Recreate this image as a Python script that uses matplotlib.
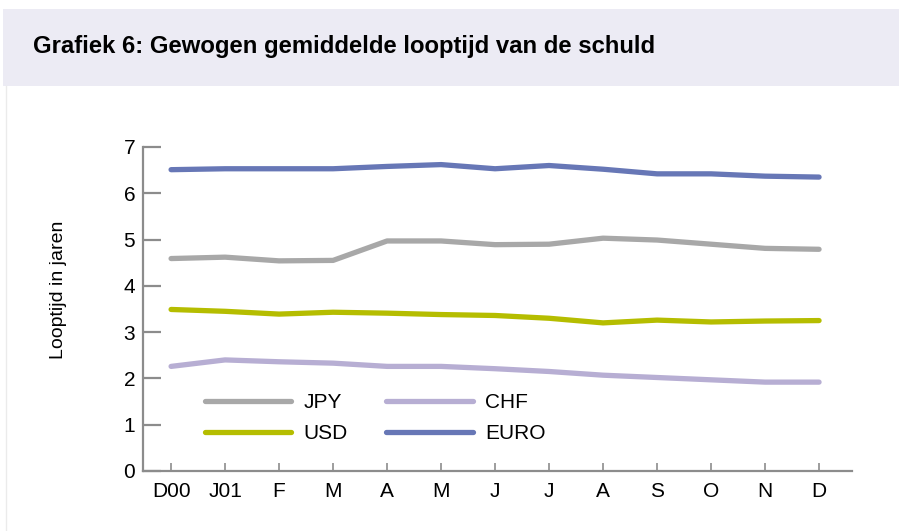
import matplotlib
matplotlib.use("Agg")
import matplotlib.pyplot as plt
from matplotlib.patches import Rectangle
from matplotlib.lines import Line2D

months = ["D00", "J01", "F", "M", "A", "M", "J", "J", "A", "S", "O", "N", "D"]
euro = [6.51, 6.53, 6.53, 6.53, 6.58, 6.62, 6.53, 6.60, 6.52, 6.42, 6.42, 6.37, 6.35]
jpy = [4.59, 4.62, 4.54, 4.55, 4.97, 4.97, 4.89, 4.90, 5.03, 4.99, 4.90, 4.81, 4.79]
usd = [3.49, 3.45, 3.39, 3.43, 3.41, 3.38, 3.36, 3.30, 3.20, 3.26, 3.22, 3.24, 3.25]
chf = [2.26, 2.40, 2.36, 2.33, 2.26, 2.26, 2.21, 2.15, 2.07, 2.02, 1.97, 1.92, 1.92]
yticks = [0, 1, 2, 3, 4, 5, 6, 7]

c_euro = "#6777B6"
c_jpy = "#A8A8A8"
c_usd = "#B5BD00"
c_chf = "#B7AED3"

plt.rcParams['font.family'] = ['Liberation Sans', 'DejaVu Sans']

W, H = 899, 531
fig = plt.figure(figsize=(W / 100, H / 100), dpi=100)
fig.patch.set_facecolor("white")

# header band
fig.add_artist(Rectangle((3 / W, 1 - 86 / H), 1 - 3 / W, 77 / H, transform=fig.transFigure,
                         facecolor="#ECEBF4", edgecolor="none", zorder=0))
fig.add_artist(Line2D([6 / W, 6 / W], [0, 1 - 86 / H], transform=fig.transFigure,
                      color="#EBEBEB", lw=1))
fig.text(33 / W, 1 - 47 / H, "Grafiek 6: Gewogen gemiddelde looptijd van de schuld",
         fontsize=17.2, fontweight="bold", va="center", ha="left")

ax = fig.add_axes([143 / W, (H - 471) / H, (852 - 143) / W, (471 - 147) / H])
x = list(range(len(months)))
lw = 3.8
ax.plot(x, jpy, color=c_jpy, lw=lw, solid_capstyle="round", label="JPY")
ax.plot(x, usd, color=c_usd, lw=lw, solid_capstyle="round", label="USD")
ax.plot(x, chf, color=c_chf, lw=lw, solid_capstyle="round", label="CHF")
ax.plot(x, euro, color=c_euro, lw=lw, solid_capstyle="round", label="EURO")

ax.set_xlim(-0.52, 12.61)
ax.set_ylim(0, 7)
ax.set_xticks(x)
ax.set_xticklabels(months)
ax.set_yticks(yticks)

for s in ["top", "right"]:
    ax.spines[s].set_visible(False)
for s in ["left", "bottom"]:
    ax.spines[s].set_color("#8C8C8C")
    ax.spines[s].set_linewidth(1.6)

ax.tick_params(axis="y", direction="in", length=13, width=1.6, color="#8C8C8C",
               labelsize=15, pad=-2)
ax.tick_params(axis="x", direction="in", length=5.5, width=1.2, color="#8C8C8C",
               labelsize=15, pad=8)
for lab in ax.get_yticklabels():
    lab.set_x(-0.015)
ax.set_ylabel("Looptijd in jaren", fontsize=14)
ax.yaxis.set_label_coords(-0.107, 0.56)

h, l = ax.get_legend_handles_labels()
leg = ax.legend(h, l, ncol=2, loc="lower left", bbox_to_anchor=(0.087, 0.085),
                frameon=False, fontsize=15, handlelength=4.15, handletextpad=0.6,
                columnspacing=1.85, labelspacing=0.6, borderpad=0, borderaxespad=0)

fig.savefig("out.png", dpi=100, facecolor="white")
